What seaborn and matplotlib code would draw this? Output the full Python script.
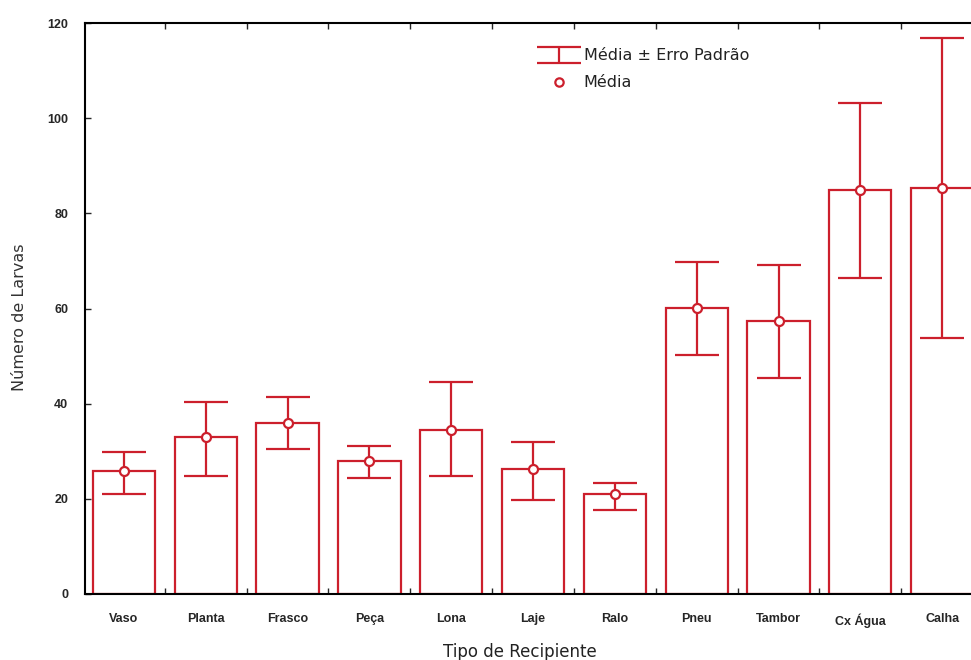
import matplotlib
matplotlib.use("Agg")
import matplotlib.pyplot as plt
from matplotlib.lines import Line2D
import seaborn as sns
import pandas as pd
import numpy as np

categories = ["Vaso", "Planta", "Frasco", "Peça", "Lona", "Laje", "Ralo",
              "Pneu", "Tambor", "Cx Água", "Calha"]
means = [25.9, 33.0, 35.9, 28.0, 34.5, 26.3, 21.0, 60.1, 57.4, 84.9, 85.3]
upper = [29.8, 40.4, 41.4, 31.1, 44.6, 31.9, 23.3, 69.8, 69.1, 103.2, 116.9]
lower = [21.0, 24.8, 30.5, 24.4, 24.8, 19.8, 17.7, 50.2, 45.4, 66.4, 53.8]

RED = "#cc1f2c"
sns.set_theme(style="white")
plt.rcParams["font.family"] = ["Liberation Sans", "DejaVu Sans"]

df = pd.DataFrame({"cat": categories, "mean": means})

fig = plt.figure(figsize=(9.71, 6.6), dpi=100)
ax = fig.add_axes([0.0875, 0.1, 0.925, 0.865])

sns.barplot(data=df, x="cat", y="mean", order=categories, color="white",
            edgecolor=RED, linewidth=1.6, width=0.76, errorbar=None, ax=ax)

x = np.arange(len(categories))
m = np.array(means)
yerr = np.vstack([m - np.array(lower), np.array(upper) - m])
eb = ax.errorbar(x, m, yerr=yerr, fmt="none", ecolor=RED, elinewidth=1.6,
                 capsize=16, capthick=1.6, zorder=3)
ax.plot(x, m, linestyle="none", marker="o", markersize=6.5,
        markerfacecolor="white", markeredgecolor=RED, markeredgewidth=1.6,
        zorder=4)

ax.set_xlim(-0.476, len(categories) - 1 + 0.476)
ax.set_ylim(0, 120)
ax.set_yticks([0, 20, 40, 60, 80, 100, 120])
ax.set_xticks(x)
ax.set_xticklabels(categories, fontsize=9, fontweight="bold")
for lab in ax.get_yticklabels():
    lab.set_fontsize(9)
    lab.set_fontweight("bold")
ax.tick_params(axis="x", length=0, pad=14)
ax.tick_params(axis="y", direction="in", length=4, width=1, left=True, pad=12)
# minor ticks between bars
ax.set_xticks(np.arange(len(categories)) + 0.5, minor=True)
ax.tick_params(axis="x", which="minor", direction="in", length=4, width=1,
               bottom=True, top=True)

for s in ax.spines.values():
    s.set_color("black")
    s.set_linewidth(1.5)

ax.set_xlabel("Tipo de Recipiente", fontsize=12,
              family="DejaVu Sans", color="#222222")
ax.set_ylabel("Número de Larvas", fontsize=11.5,
              family="DejaVu Sans", color="#333333")
ax.xaxis.set_label_coords(0.484, -0.085)
ax.yaxis.set_label_coords(-0.064, 0.485)

handles = [eb, Line2D([], [], linestyle="none", marker="o", markersize=6,
                      markerfacecolor="white", markeredgecolor=RED,
                      markeredgewidth=1.6)]
leg = ax.legend(handles, ["Média ± Erro Padrão", "Média"], loc="upper left",
                bbox_to_anchor=(0.502, 0.981), frameon=False,
                prop={"family": "DejaVu Sans", "size": 11.5},
                handlelength=1.1, handletextpad=1.0, labelspacing=0.75)
for t in leg.get_texts():
    t.set_color("#222222")

fig.savefig("out.png", dpi=100)
